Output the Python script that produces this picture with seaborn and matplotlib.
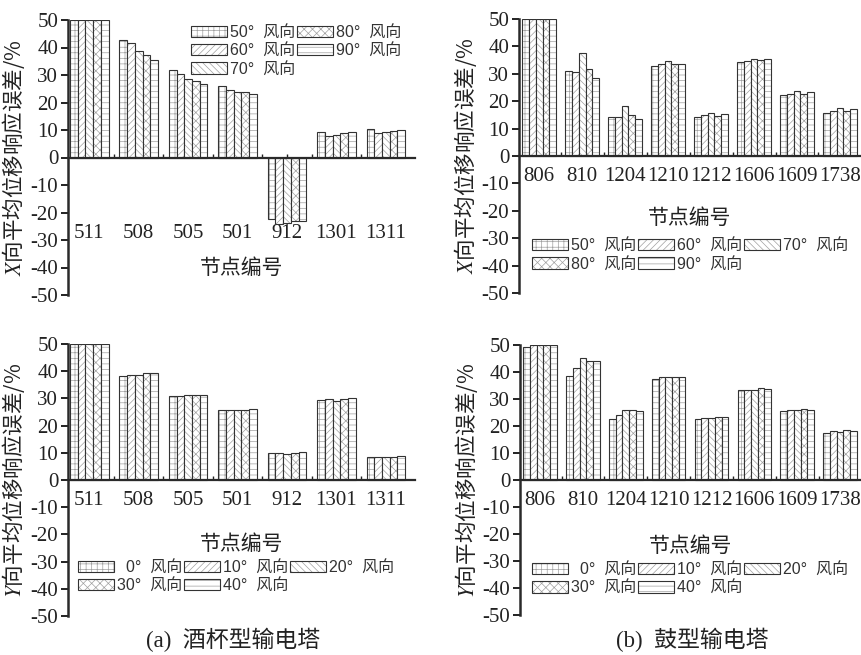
import matplotlib
matplotlib.use("Agg")
import matplotlib.pyplot as plt
import matplotlib.colors as mcolors
import seaborn as sns
import pandas as pd
from matplotlib.patches import Patch

# ---------------- data ----------------
nodes_a = ["511", "508", "505", "501", "912", "1301", "1311"]
nodes_b = ["806", "810", "1204", "1210", "1212", "1606", "1609", "1738"]
dirs_x = ["50°", "60°", "70°", "80°", "90°"]
dirs_y = ["0°", "10°", "20°", "30°", "40°"]

# (a) X direction
ax_50 = [50, 42.9, 32.0, 25.9, -22.5, 9.2, 10.3]
ax_60 = [50, 41.6, 30.5, 24.7, -24.2, 7.9, 8.9]
ax_70 = [50, 38.6, 28.7, 23.8, -23.7, 8.3, 9.1]
ax_80 = [50, 37.3, 27.7, 23.7, -23.0, 8.9, 9.7]
ax_90 = [50, 35.4, 26.6, 23.1, -23.0, 9.1, 10.1]
# (b) X direction
bx_50 = [50, 30.9, 14.3, 33.0, 14.3, 34.2, 22.3, 15.8]
bx_60 = [50, 30.7, 14.3, 33.4, 14.8, 34.7, 22.8, 16.6]
bx_70 = [50, 37.6, 18.4, 34.5, 15.8, 35.4, 23.9, 17.5]
bx_80 = [50, 31.6, 14.8, 33.4, 14.6, 35.0, 22.8, 16.4]
bx_90 = [50, 28.5, 13.6, 33.6, 15.2, 35.4, 23.5, 17.2]
# (a) Y direction
ay_0 = [50, 38.3, 30.8, 25.9, 9.9, 29.3, 8.6]
ay_10 = [50, 38.7, 31.0, 25.9, 9.9, 29.6, 8.6]
ay_20 = [50, 38.7, 31.1, 25.9, 9.4, 29.0, 8.6]
ay_30 = [50, 39.3, 31.4, 25.9, 10.1, 29.9, 8.6]
ay_40 = [50, 39.3, 31.4, 26.2, 10.3, 30.0, 8.9]
# (b) Y direction
by_0 = [49.1, 38.7, 22.7, 37.5, 22.6, 33.2, 25.4, 17.4]
by_10 = [50, 41.5, 24.2, 38.1, 23.1, 33.5, 25.9, 18.1]
by_20 = [50, 45.1, 25.8, 38.1, 22.9, 33.2, 25.8, 17.8]
by_30 = [50, 44.2, 25.8, 38.3, 23.3, 33.9, 26.2, 18.4]
by_40 = [50, 43.9, 25.6, 38.3, 23.2, 33.7, 26.0, 18.2]

yticks = [-50, -40, -30, -20, -10, 0, 10, 20, 30, 40, 50]

# ---------------- style ----------------
sns.set_style("white")
plt.rcParams["font.family"] = ["Liberation Serif", "Noto Sans CJK SC"]
plt.rcParams["axes.unicode_minus"] = False
plt.rcParams["mathtext.fontset"] = "stix"
plt.rcParams["hatch.linewidth"] = 0.5

HATCHES = ["+++", "/////", "\\\\\\\\\\", "xxxx", "---"]
EDGE = "#333333"
HATCH_RGBA = mcolors.to_rgba("#a0a0a0")
CJK = ["Noto Sans CJK SC"]
LEGFONT = ["Liberation Sans", "Noto Sans CJK SC"]


def set_hc(p):
    if hasattr(p, "set_hatchcolor"):
        p.set_hatchcolor(HATCH_RGBA)
    else:
        p._hatch_color = HATCH_RGBA
    p.stale = True


def make_df(nodes, dirs, series):
    rows = []
    for d, vals in zip(dirs, series):
        for n, v in zip(nodes, vals):
            rows.append({"node": n, "dir": d, "val": v})
    return pd.DataFrame(rows)


def draw(ax, nodes, dirs, series, xlim, tick_pad, xlabel_y, ylabel, leg_labels,
         leg_order, leg_ncol, leg_anchor):
    df = make_df(nodes, dirs, series)
    sns.barplot(data=df, x="node", y="val", hue="dir", order=nodes,
                hue_order=dirs, palette=["white"] * len(dirs), saturation=1,
                edgecolor=EDGE, linewidth=0.8, width=0.78, errorbar=None,
                legend=False, ax=ax)
    for cont, h in zip(ax.containers, HATCHES):
        for p in cont.patches:
            p.set_hatch(h)
            set_hc(p)
    ax.set_ylim(-50, 50)
    ax.set_xlim(*xlim)
    ax.set_yticks(yticks)
    ax.set_yticklabels([str(t) for t in yticks])
    for s in ["top", "right"]:
        ax.spines[s].set_visible(False)
    ax.spines["left"].set_linewidth(1.8)
    ax.spines["left"].set_color("#2a2a2a")
    ax.spines["bottom"].set_position(("data", 0))
    ax.spines["bottom"].set_linewidth(1.6)
    ax.spines["bottom"].set_color("#2a2a2a")
    ax.tick_params(axis="y", direction="out", length=5, width=1.4,
                   labelsize=15, pad=2, left=True, colors="#222222")
    ax.tick_params(axis="x", direction="in", length=3, width=1.0,
                   labelsize=15, pad=tick_pad, bottom=True, colors="#222222")
    ax.set_xticks(range(len(nodes)))
    ax.set_xticks([i + 0.5 for i in range(len(nodes) - 1)], minor=True)
    ax.tick_params(axis="x", which="minor", direction="in", length=3,
                   width=1.0, bottom=True, colors="#222222")
    ax.set_xlabel("节点编号", fontsize=15, family=CJK, color="#222222")
    ax.xaxis.set_label_coords(0.5 + xlabel_y[1], (xlabel_y[0] + 50) / 100)
    ax.set_ylabel(ylabel, fontsize=15.5, family=CJK, color="#222222",
                  labelpad=2)
    ax.yaxis.set_label_coords(-0.118, 0.5)
    handles = []
    for h in HATCHES:
        hp = Patch(facecolor="white", edgecolor=EDGE, hatch=h, linewidth=0.8)
        set_hc(hp)
        handles.append(hp)
    hs = [handles[i] for i in leg_order]
    ls = [leg_labels[i] for i in leg_order]
    leg = ax.legend(hs, ls, loc="upper left", bbox_to_anchor=leg_anchor,
                    ncol=leg_ncol, frameon=False,
                    prop={"family": LEGFONT, "size": 11.5},
                    handlelength=2.25, handleheight=0.75, handletextpad=0.2,
                    columnspacing=0.1, labelspacing=0.2, borderpad=0,
                    borderaxespad=0, labelcolor="#333333")
    for lp in leg.get_patches():
        set_hc(lp)


fig = plt.figure(figsize=(8.61, 6.55), dpi=100)
fig.patch.set_facecolor("white")

W, H = 861.0, 655.0


def axes_px(l, r, t, b):
    return fig.add_axes([l / W, 1 - b / H, (r - l) / W, (b - t) / H])


ax1 = axes_px(68, 415, 20, 295)
ax2 = axes_px(519, 861, 19, 293)
ax3 = axes_px(68, 415, 344, 616)
ax4 = axes_px(520, 861, 345, 615)
for a in (ax1, ax2, ax3, ax4):
    a.set_facecolor("none")

lab_x = [d + "  风向" for d in dirs_x]
lab_y = ["  " + dirs_y[0] + "  风向"] + [d + "  风向" for d in dirs_y[1:]]

draw(ax1, nodes_a, dirs_x, [ax_50, ax_60, ax_70, ax_80, ax_90],
     (-0.43, 6.59), 48, (-36, 0.0), "$X$向平均位移响应误差/%",
     lab_x, [0, 1, 2, 3, 4], 2, (0.354, 0.982))
draw(ax2, nodes_b, dirs_x, [bx_50, bx_60, bx_70, bx_80, bx_90],
     (-0.47, 7.49), 8, (-18.6, 0.0), "$X$向平均位移响应误差/%",
     lab_x, [0, 3, 1, 4, 2], 3, (0.038, 0.20))
draw(ax3, nodes_a, dirs_y, [ay_0, ay_10, ay_20, ay_30, ay_40],
     (-0.43, 6.59), 8, (-19.3, 0.0), "$Y$向平均位移响应误差/%",
     lab_y, [0, 3, 1, 4, 2], 3, (0.029, 0.206))
draw(ax4, nodes_b, dirs_y, [by_0, by_10, by_20, by_30, by_40],
     (-0.47, 7.49), 8, (-20.4, 0.0), "$Y$向平均位移响应误差/%",
     lab_y, [0, 3, 1, 4, 2], 3, (0.035, 0.196))

fig.text(233 / W, 1 - 640 / H, "(a)  酒杯型输电塔", ha="center", va="center",
         fontsize=16.5, family=["Liberation Serif", "Noto Sans CJK SC"],
         color="#222222")
fig.text(692 / W, 1 - 640 / H, "(b)  鼓型输电塔", ha="center", va="center",
         fontsize=16.5, family=["Liberation Serif", "Noto Sans CJK SC"],
         color="#222222")

fig.savefig("out.png", dpi=100, facecolor="white")
